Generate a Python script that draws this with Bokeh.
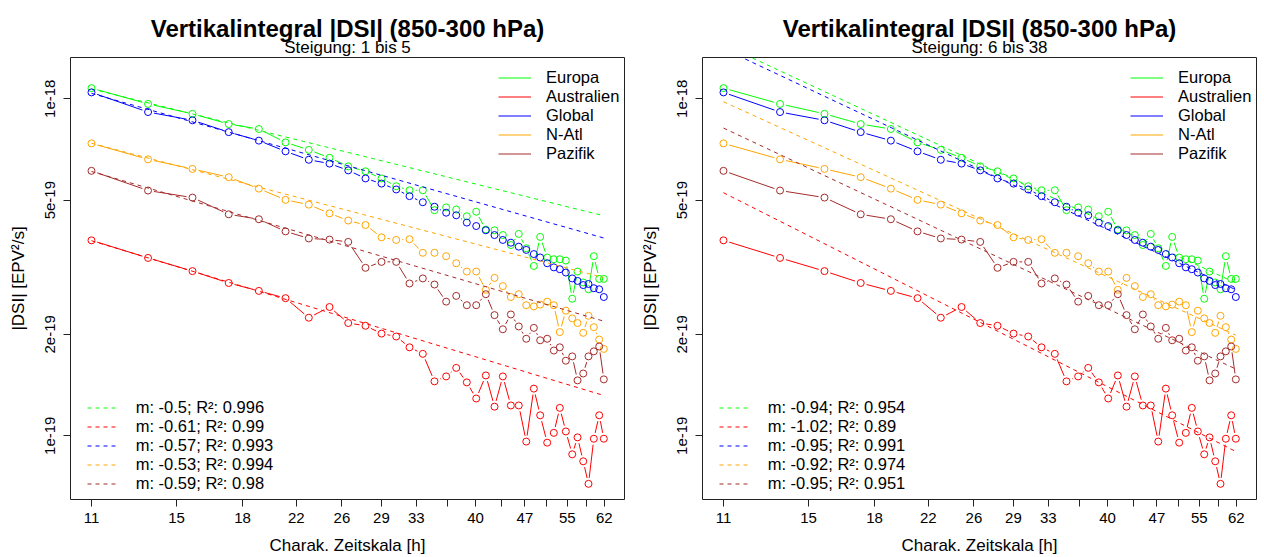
import numpy as np
from bokeh.plotting import figure
from bokeh.models import Range1d, FixedTicker, Legend, LegendItem
from bokeh.core.properties import value
from bokeh.layouts import row, column
from bokeh.embed import file_html
from bokeh.resources import INLINE

# ---------------- data ----------------
# characteristic time scale [h] of the 38 points
hours = [10.95, 13.26, 15.41, 17.42, 19.29, 21.11, 22.84, 24.50, 26.10, 27.67,
         29.21, 30.70, 32.11, 33.59, 34.94, 36.35, 37.61, 38.98, 40.24, 41.57,
         42.81, 44.03, 45.24, 46.47, 47.66, 48.90, 49.96, 51.16, 52.32, 53.39,
         54.49, 55.68, 56.69, 57.79, 58.83, 59.90, 61.00, 61.96]

# |DSI| values in units of 1e-19 EPV^2/s
europa = [10.75, 9.65, 9.02, 8.41, 8.13, 7.42, 7.05, 6.68, 6.30, 6.09,
          5.80, 5.50, 5.35, 5.35, 4.67, 4.76, 4.69, 4.48, 4.62, 4.09,
          4.07, 3.94, 3.68, 3.97, 3.60, 3.19, 3.89, 3.38, 3.34, 3.34,
          3.31, 2.55, 3.07, 2.85, 2.72, 3.41, 2.92, 2.92]
australien = [3.80, 3.37, 3.08, 2.84, 2.69, 2.56, 2.24, 2.41, 2.16, 2.12,
              2.01, 1.97, 1.83, 1.75, 1.45, 1.50, 1.59, 1.44, 1.29, 1.51,
              1.22, 1.50, 1.23, 1.23, 0.961, 1.38, 1.15, 0.954, 1.02, 1.21,
              1.03, 0.881, 0.989, 0.840, 0.720, 0.980, 1.15, 0.980]
global_ = [10.44, 9.13, 8.63, 7.96, 7.51, 6.98, 6.59, 6.42, 6.13, 5.80,
           5.60, 5.38, 5.14, 4.93, 4.78, 4.59, 4.51, 4.29, 4.19, 4.07,
           3.94, 3.81, 3.74, 3.64, 3.56, 3.46, 3.38, 3.25, 3.16, 3.12,
           3.05, 2.93, 2.88, 2.80, 2.82, 2.74, 2.72, 2.58]
natl = [7.37, 6.61, 6.19, 5.85, 5.41, 5.01, 4.85, 4.57, 4.35, 4.22,
        3.88, 3.81, 3.83, 3.49, 3.49, 3.41, 3.25, 3.07, 3.07, 2.71,
        2.94, 2.78, 2.58, 2.63, 2.44, 2.42, 2.45, 2.50, 2.44, 2.03,
        2.35, 2.23, 2.16, 2.02, 2.27, 2.10, 1.93, 1.81]
pazifik = [6.11, 5.34, 5.09, 4.54, 4.39, 4.04, 3.85, 3.82, 3.76, 3.15,
           3.28, 3.28, 2.83, 2.93, 2.81, 2.50, 2.60, 2.44, 2.44, 2.63,
           2.28, 2.07, 2.29, 2.11, 1.94, 2.09, 1.92, 1.94, 1.79, 1.83,
           1.67, 1.72, 1.46, 1.53, 1.72, 1.78, 1.84, 1.47]
UNIT = 1e-19

series_names = ["Europa", "Australien", "Global", "N-Atl", "Pazifik"]
series_values = [europa, australien, global_, natl, pazifik]
series_colors = ["#00FF00", "#FF0000", "#0000FF", "#FFA500", "#A52A2A"]

# regression results shown in the legends
fit_left = (1, 5)
slopes_left = [-0.5, -0.61, -0.57, -0.53, -0.59]
r2_left = [0.996, 0.99, 0.993, 0.994, 0.98]
fit_right = (6, 38)
slopes_right = [-0.94, -1.02, -0.95, -0.92, -0.95]
r2_right = [0.954, 0.89, 0.991, 0.974, 0.951]

x_ticks = [10.95, 14.6, 18.25, 21.9, 25.55, 29.2, 32.85, 36.5, 40.15, 43.8,
           47.45, 51.1, 54.75, 58.4, 62.05]
x_tick_labels = ["11", "15", "18", "22", "26", "29", "33", "", "40", "",
                 "47", "", "55", "", "62"]
y_ticks = [1e-19, 2e-19, 5e-19, 1e-18]
y_tick_labels = ["1e-19", "2e-19", "5e-19", "1e-18"]

title_text = "Vertikalintegral |DSI| (850-300 hPa)"
x_title = "Charak. Zeitskala [h]"
y_title = "|DSI| [EPV²/s]"

# ---------------- layout ----------------
W = 632
HEAD_H = 56          # header strip with title + subtitle
PLOT_H = 501
ML, MR, MT, MB = 70, 8, 1, 57
FW, FH = W - ML - MR, PLOT_H - MT - MB
X_LO, X_HI = 10.20, 66.45
Y_LO, Y_HI = 6.47e-20, 1.3252e-18
FONT = "Liberation Sans"
GAP = 6.0
LEG_FONT = "16.5px"


def gapped_segments(xs, ys):
    lx, ly = np.log(xs), np.log(ys)
    kx = FW / np.log(X_HI / X_LO)
    ky = FH / np.log(Y_HI / Y_LO)
    x0, y0, x1, y1 = [], [], [], []
    for i in range(len(xs) - 1):
        dx, dy = lx[i + 1] - lx[i], ly[i + 1] - ly[i]
        L = np.hypot(dx * kx, dy * ky)
        if L <= 2 * GAP + 0.5:
            continue
        t = GAP / L
        x0.append(np.exp(lx[i] + t * dx)); y0.append(np.exp(ly[i] + t * dy))
        x1.append(np.exp(lx[i + 1] - t * dx)); y1.append(np.exp(ly[i + 1] - t * dy))
    return x0, y0, x1, y1


def make_header(subtitle):
    h = figure(width=W, height=HEAD_H, x_range=Range1d(0, W), y_range=Range1d(HEAD_H, 0),
               output_backend="svg", toolbar_location=None, title=None,
               x_axis_location=None, y_axis_location=None, min_border=0)
    h.outline_line_color = None
    h.xgrid.visible = False
    h.ygrid.visible = False
    cx = ML + FW / 2
    h.text(x=[cx], y=[27.5], text=[title_text], text_align="center",
           text_baseline="middle", text_font=value(FONT), text_font_style="bold",
           text_font_size="24px", text_color="black")
    h.text(x=[cx], y=[47.0], text=[subtitle], text_align="center",
           text_baseline="middle", text_font=value(FONT),
           text_font_size="17px", text_color="black")
    return h


def make_panel(fit_range, slopes, r2s):
    p = figure(width=W, height=PLOT_H, x_axis_type="log", y_axis_type="log",
               x_range=Range1d(X_LO, X_HI), y_range=Range1d(Y_LO, Y_HI),
               output_backend="svg", toolbar_location=None, title=None,
               min_border_left=ML, min_border_right=MR,
               min_border_top=MT, min_border_bottom=MB)
    p.xgrid.visible = False
    p.ygrid.visible = False
    p.outline_line_color = "#222222"
    p.outline_line_width = 1
    p.background_fill_color = "white"
    p.border_fill_color = "white"

    for ax in (p.xaxis[0], p.yaxis[0]):
        ax.axis_line_color = None
        ax.major_tick_out = 7
        ax.major_tick_in = 0
        ax.major_tick_line_color = "#222222"
        ax.minor_tick_line_color = None
        ax.major_label_text_font = FONT
        ax.major_label_text_font_size = "15px"
        ax.major_label_text_color = "black"
        ax.axis_label_text_font = FONT
        ax.axis_label_text_font_size = "17px"
        ax.axis_label_text_font_style = "normal"
        ax.axis_label_text_color = "black"
    p.xaxis[0].ticker = FixedTicker(ticks=x_ticks)
    p.xaxis[0].major_label_overrides = dict(zip(x_ticks, x_tick_labels))
    p.xaxis[0].major_label_standoff = 6
    p.xaxis[0].axis_label = x_title
    p.xaxis[0].axis_label_standoff = 10
    p.yaxis[0].ticker = FixedTicker(ticks=y_ticks)
    p.yaxis[0].major_label_overrides = dict(zip(y_ticks, y_tick_labels))
    p.yaxis[0].major_label_orientation = "vertical"
    p.yaxis[0].major_label_standoff = 8
    p.yaxis[0].axis_label = y_title
    p.yaxis[0].axis_label_standoff = 15

    hx = np.array(hours)
    series_items, fit_items = [], []
    a, b = fit_range
    for name, vals, col, m, r2 in zip(series_names, series_values, series_colors, slopes, r2s):
        yv = np.array(vals) * UNIT
        x0, y0, x1, y1 = gapped_segments(hx, yv)
        seg = p.segment(x0, y0, x1, y1, line_color=col, line_width=1)
        p.scatter(hx, yv, marker="circle", size=7, fill_color=None,
                  line_color=col, line_width=1)
        lx = np.log(hx[a - 1:b]); ly = np.log(yv[a - 1:b])
        b0 = ly.mean() - m * lx.mean()
        xe = np.array([hx[0], hx[-1]])
        ye = np.exp(b0 + m * np.log(xe))
        fl = p.line(xe, ye, line_color=col, line_width=1, line_dash="4 4")
        series_items.append(LegendItem(label=name, renderers=[seg]))
        fit_items.append(LegendItem(label=f"m: {m}; R²: {r2}", renderers=[fl]))

    common = dict(orientation="vertical", glyph_height=19, label_height=19,
                  spacing=0, padding=0, margin=0, border_line_color=None,
                  background_fill_alpha=0, label_text_font=FONT,
                  label_text_font_size=LEG_FONT, label_text_color="black")
    leg1 = Legend(items=series_items, location=(428, 336.5), glyph_width=33,
                  label_standoff=15, **common)
    leg2 = Legend(items=fit_items, location=(16.7, 5.8), glyph_width=32,
                  label_standoff=17, **common)
    p.add_layout(leg1)
    p.add_layout(leg2)
    return p


h1 = make_header(f"Steigung: {fit_left[0]} bis {fit_left[1]}")
h2 = make_header(f"Steigung: {fit_right[0]} bis {fit_right[1]}")
p1 = make_panel(fit_left, slopes_left, r2_left)
p2 = make_panel(fit_right, slopes_right, r2_right)
layout = column(row(h1, h2), row(p1, p2))

open("out.html", "w").write(file_html(layout, INLINE))
